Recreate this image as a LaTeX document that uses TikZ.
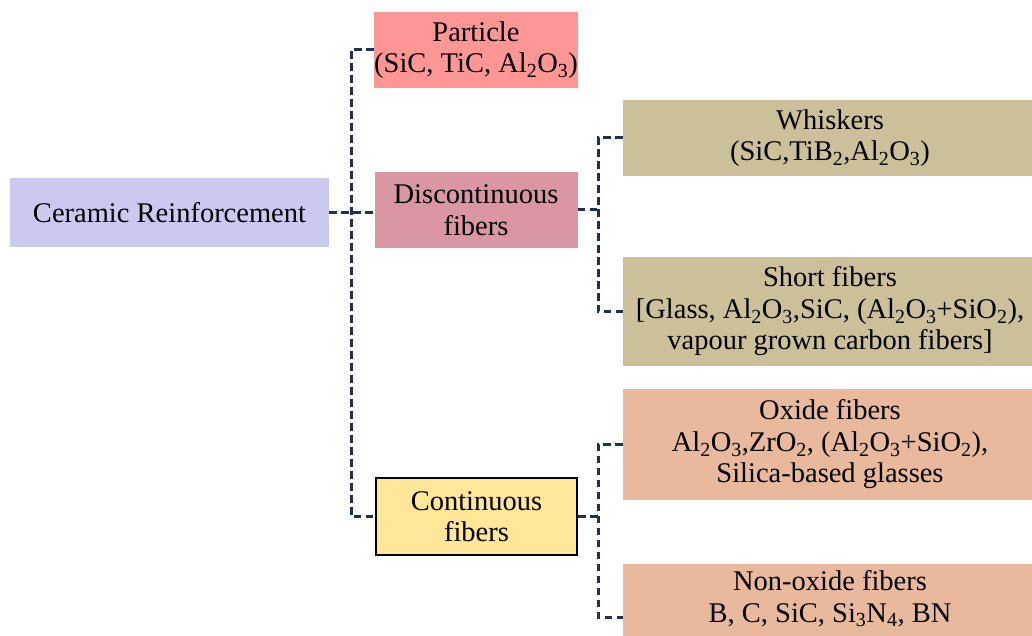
\documentclass[tikz,border=0pt]{standalone}
\usepackage{fontspec}
\setmainfont{Liberation Serif}
\usepackage{tikz}
\usetikzlibrary{positioning}
\definecolor{linkblue}{RGB}{28,48,90}
\definecolor{cerm}{RGB}{202,202,240}
\definecolor{part}{RGB}{255,150,150}
\definecolor{disc}{RGB}{218,150,162}
\definecolor{cont}{RGB}{255,230,153}
\definecolor{whis}{RGB}{204,192,154}
\definecolor{oxid}{RGB}{232,185,157}

\begin{document}
\begin{tikzpicture}[x=1pt,y=-1pt,box/.style n args={3}{fill=#1,minimum width=#2pt,minimum height=#3pt,inner sep=0pt,align=center,font=\fontsize{28.5}{31.5}\selectfont},link/.style={draw=linkblue,line width=3pt,dash pattern=on 7.5pt off 4.5pt}]
\useasboundingbox (0,0) rectangle (1032,636);
\clip (0,0) rectangle (1032,636);
\node[box={cerm}{319}{69}] (cer) at (169.5,212.5) {Ceramic Reinforcement};
\node[box={part}{204}{76}] (part) at (476,50) {Particle\\(SiC, TiC, Al\textsubscript{2}O\textsubscript{3})};
\node[box={disc}{203}{76}] (disc) at (476,210) {Discontinuous\\fibers};
\node[box={cont}{201}{77},draw=black,line width=2pt] (cont) at (476.5,516.5) {Continuous\\fibers};
\node[box={whis}{414}{76}] (whis) at (830,138) {Whiskers\\(SiC,TiB\textsubscript{2},Al\textsubscript{2}O\textsubscript{3})};
\node[box={whis}{414}{109}] (short) at (830,311.5) {Short fibers\\{[}Glass, Al\textsubscript{2}O\textsubscript{3},SiC, (Al\textsubscript{2}O\textsubscript{3}+SiO\textsubscript{2}),\\vapour grown carbon fibers{]}};
\node[box={oxid}{414}{111}] (oxid) at (830,444.5) {Oxide fibers\\Al\textsubscript{2}O\textsubscript{3},ZrO\textsubscript{2}, (Al\textsubscript{2}O\textsubscript{3}+SiO\textsubscript{2}),\\Silica-based glasses};
\node[box={oxid}{414}{106}] (nonox) at (830,617) {Non-oxide fibers\\B, C, SiC, Si\textsubscript{3}N\textsubscript{4}, BN\\\strut};
\coordinate (j1) at (351,211);
\coordinate (j2) at (598,211);
\coordinate (j3) at (598,517);
\draw[link] (cer.east) -- (cer.east -| disc.west);
\draw[link] (part.west) -| (j1) |- (cont.west);
\foreach \from/\to/\top/\bot in {disc/j2/whis/short,cont/j3/oxid/nonox} {
   \draw[link] (\from.east) -- (\from.east -| \to);
   \draw[link] (\top.west) -| (\to) |- (\bot.west);
}
\end{tikzpicture}
\end{document}
